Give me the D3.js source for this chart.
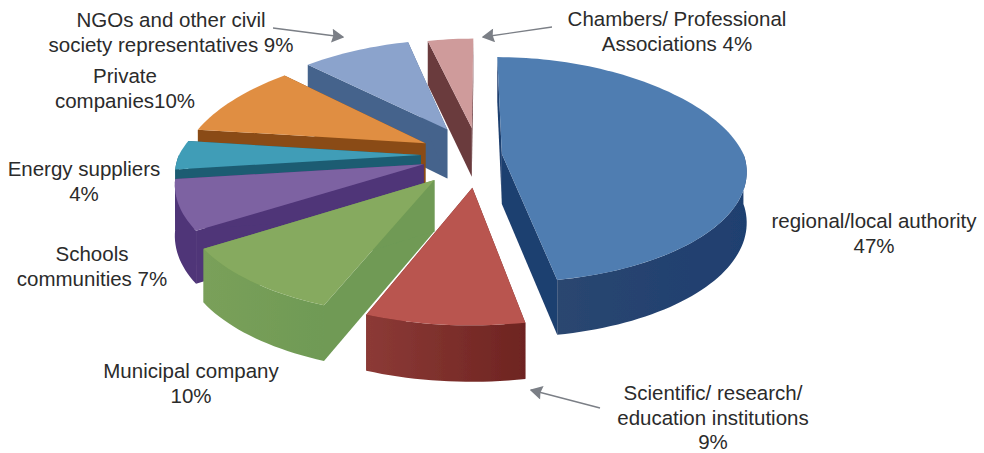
<!DOCTYPE html>
<head>
  <meta charset="utf-8">
  <script src="https://d3js.org/d3.v7.min.js"></script>
  <style>
    body { margin:0;background:#fff; }
    text { font-family:"Liberation Sans",Arial,sans-serif;font-size:20.5px;fill:#2b2b2b; }
  </style>
</head>

<body>
  <script>
    var width = 984;
    var height = 453;

    var categories = ["regional/local authority", "Scientific/ research/ education institutions",
      "Municipal company", "Schools communities", "Energy suppliers", "Private companies",
      "NGOs and other civil society representatives", "Chambers/ Professional Associations"];
    var shares = [47, 9, 10, 7, 4, 10, 9, 4];
    var labelLines = [
      ["regional/local authority", "47%"],
      ["Scientific/ research/", "education institutions", "9%"],
      ["Municipal company", "10%"],
      ["Schools", "communities 7%"],
      ["Energy suppliers", "4%"],
      ["Private", "companies10%"],
      ["NGOs and other civil", "society representatives 9%"],
      ["Chambers/ Professional", "Associations 4%"]
    ];

    // layout, not data
    var explode = [0.095, 0.28, 0.28, 0.24, 0.24, 0.25, 0.27, 0.25];
    var labelPos = [[874, 228], [713, 400], [191, 378], [92, 261], [84, 176], [125, 83], [171, 27], [677, 26]];
    var topColor = ["#4f7db1", "#b9554f", "#86aa5e", "#7d62a2", "#3f9db7", "#e08e43", "#8ba3cc", "#cf9b9b"];
    var wallLeft = ["#2a4670", "#8c3a36", "#7aa05a", "#4f3578", "#1d5c72", "#8a4c14", "#45638c", "#6a3a3e"];
    var wallRight = ["#1f3f6f", "#6e2421", "#6f9a55", "#4f3578", "#1d5c72", "#8a4c14", "#45638c", "#6a3a3e"];
    var arrows = [[273, 28, 343, 37], [552, 27, 483, 37], [600, 408, 531, 390]];

    var cx = 479, cy = 155, rx = 242, ry = 113, depth = 50;

    var svg = d3.select("body").append("svg")
      .attr("width", width)
      .attr("height", height)
      .style("display", "block");

    var defs = svg.append("defs");
    defs.append("filter").attr("id", "soft")
      .append("feGaussianBlur").attr("stdDeviation", 0.6);

    var pie = d3.pie().sort(null).startAngle(0).endAngle(2 * Math.PI);
    var arcs = pie(shares);

    // pie plane to screen: u to the right, v toward the viewer, with some perspective
    function project(u, v, drop) {
      var sx = 1 + (v > 0 ? 0.15 : 0.2) * v;
      var sy = 1 + 0.14 * v;
      return [cx + rx * u * sx, cy + ry * v * sy + (drop ? depth * (1 + 0.1 * v) : 0)];
    }

    function rimPoint(i, ang, drop) {
      var mid = (arcs[i].startAngle + arcs[i].endAngle) / 2;
      return project(Math.sin(ang) + explode[i] * Math.sin(mid),
        -Math.cos(ang) + explode[i] * -Math.cos(mid), drop);
    }

    function apexPoint(i, drop) {
      var mid = (arcs[i].startAngle + arcs[i].endAngle) / 2;
      return project(explode[i] * Math.sin(mid), -explode[i] * Math.cos(mid), drop);
    }

    function rimAngles(a0, a1) {
      var n = Math.max(2, Math.ceil((a1 - a0) / 0.03));
      return d3.range(n + 1).map(function(k) { return a0 + (a1 - a0) * k / n; });
    }

    var line = d3.line();
    var pieG = svg.append("g").attr("filter", "url(#soft)");

    // painter's order: back slices first, the front ones on top
    var drawOrder = [7, 6, 5, 4, 3, 2, 1, 0];

    drawOrder.forEach(function(i) {
      var d = arcs[i];
      var g = pieG.append("g").attr("class", "slice");

      [d.startAngle, d.endAngle].forEach(function(a) {
        g.append("path")
          .attr("d", line([apexPoint(i, false), rimPoint(i, a, false), rimPoint(i, a, true), apexPoint(i, true)]) + "Z")
          .attr("fill", wallRight[i]);
      });

      // outer wall only where the rim faces the viewer
      var a0 = Math.max(d.startAngle, Math.PI / 2);
      var a1 = Math.min(d.endAngle, 3 * Math.PI / 2);
      if (a1 > a0) {
        var angs = rimAngles(a0, a1);
        var upper = angs.map(function(a) { return rimPoint(i, a, false); });
        var lower = angs.map(function(a) { return rimPoint(i, a, true); }).reverse();
        var xs = d3.extent(upper, function(p) { return p[0]; });
        var grad = defs.append("linearGradient")
          .attr("id", "wall" + i)
          .attr("gradientUnits", "userSpaceOnUse")
          .attr("x1", xs[0]).attr("x2", xs[1]).attr("y1", 0).attr("y2", 0);
        grad.append("stop").attr("offset", 0).attr("stop-color", wallLeft[i]);
        grad.append("stop").attr("offset", 1).attr("stop-color", wallRight[i]);
        g.append("path")
          .attr("d", line(upper.concat(lower)) + "Z")
          .attr("fill", "url(#wall" + i + ")");
      }

      var rim = rimAngles(d.startAngle, d.endAngle).map(function(a) { return rimPoint(i, a, false); });
      g.append("path")
        .attr("d", line([apexPoint(i, false)].concat(rim)) + "Z")
        .attr("fill", topColor[i]);
    });

    var labels = svg.append("g");
    labelLines.forEach(function(lines, i) {
      var t = labels.append("text")
        .attr("text-anchor", "middle")
        .attr("x", labelPos[i][0])
        .attr("y", labelPos[i][1]);
      lines.forEach(function(s, k) {
        t.append("tspan")
          .attr("x", labelPos[i][0])
          .attr("dy", k ? 24.5 : 0)
          .text(s);
      });
    });

    // grey pointers
    defs.append("marker").attr("id", "head")
      .attr("viewBox", "0 0 10 10").attr("refX", 9).attr("refY", 5)
      .attr("markerWidth", 14).attr("markerHeight", 14)
      .attr("markerUnits", "userSpaceOnUse").attr("orient", "auto")
      .append("path").attr("d", "M1,0L10,5L1,10L2,5Z").attr("fill", "#7b7f86");

    svg.selectAll(".pointer")
      .data(arrows)
      .enter()
      .append("line")
      .attr("class", "pointer")
      .attr("x1", function(d) { return d[0]; })
      .attr("y1", function(d) { return d[1]; })
      .attr("x2", function(d) { return d[2]; })
      .attr("y2", function(d) { return d[3]; })
      .attr("stroke", "#7b7f86")
      .attr("stroke-width", 1.3)
      .attr("marker-end", "url(#head)");
  </script>
</body>
